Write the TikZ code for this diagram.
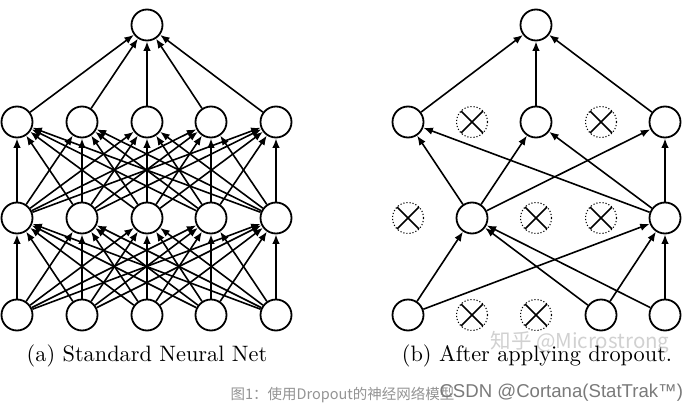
\documentclass[tikz,border=0pt]{standalone}
\usepackage{fontspec}
\newfontfamily\cjk{Noto Sans CJK SC}
\newfontfamily\libsans{Liberation Sans}
\usetikzlibrary{arrows.meta}
\begin{document}
\begin{tikzpicture}[x=1pt,y=-1pt,
  neuron/.style={circle, draw, line width=1.8pt, minimum size=31pt, inner sep=0pt},
  dropn/.style={circle, draw, dotted, line width=1.1pt, minimum size=31pt, inner sep=0pt,
    path picture={\draw[solid,line width=1.7pt]
      (path picture bounding box.north west) -- (path picture bounding box.south east)
      (path picture bounding box.north east) -- (path picture bounding box.south west);}},
  conn/.style={-{Latex[length=9.5pt,width=7.5pt]}, line width=1.6pt},
]
\useasboundingbox (0,0) rectangle (693,412);
\fill[white] (0,0) rectangle (693,412);
% ---------- left network ----------
\node[neuron] (a1) at (147,25) {};
\foreach \x [count=\i] in {17,82,147,211,276} {
  \node[neuron] (a2\i) at (\x,122) {};
  \node[neuron] (a3\i) at (\x,218) {};
  \node[neuron] (a4\i) at (\x,315) {};
}
\foreach \i in {1,...,5} {
  \draw[conn] (a2\i) -- (a1);
  \foreach \j in {1,...,5} {
    \draw[conn] (a3\i) -- (a2\j);
    \draw[conn] (a4\i) -- (a3\j);
  }
}
% ---------- right network ----------
\node[neuron] (b1) at (536,25) {};
\node[neuron] (b21) at (408,122) {};
\node[dropn]  (b22) at (472,122) {};
\node[neuron] (b23) at (536,122) {};
\node[dropn]  (b24) at (601,122) {};
\node[neuron] (b25) at (665,122) {};
\node[dropn]  (b31) at (408,218) {};
\node[neuron] (b32) at (472,218) {};
\node[dropn]  (b33) at (536,218) {};
\node[dropn]  (b34) at (601,218) {};
\node[neuron] (b35) at (665,218) {};
\node[neuron] (b41) at (408,315) {};
\node[dropn]  (b42) at (472,315) {};
\node[dropn]  (b43) at (536,315) {};
\node[neuron] (b44) at (601,315) {};
\node[neuron] (b45) at (665,315) {};
\foreach \i in {1,3,5} {
  \draw[conn] (b2\i) -- (b1);
  \foreach \j in {2,5} {
    \draw[conn] (b3\j) -- (b2\i);
  }
}
\foreach \i in {1,4,5} {
  \foreach \j in {2,5} {
    \draw[conn] (b4\i) -- (b3\j);
  }
}
% ---------- captions ----------
\node[text=black!18, font=\cjk\fontsize{20.5}{22}\selectfont] (wm) at (580,342) {知乎 @Microstrong};
\node (capa) at (147,356) {\scalebox{2.23}{(a) Standard Neural Net}};
\node (capb) at (537,356) {\scalebox{2.23}{(b) After applying dropout.}};
\node[text=black!42, font=\cjk\fontsize{14.5}{16}\selectfont, anchor=west] (fig) at (227,395) {图1：使用Dropout的神经网络模型};
\node[text=black!52, font=\libsans\fontsize{18.6}{22}\selectfont, anchor=west] (csdn) at (436,393) {CSDN @Cortana(StatTrak™)};
\end{tikzpicture}
\end{document}
